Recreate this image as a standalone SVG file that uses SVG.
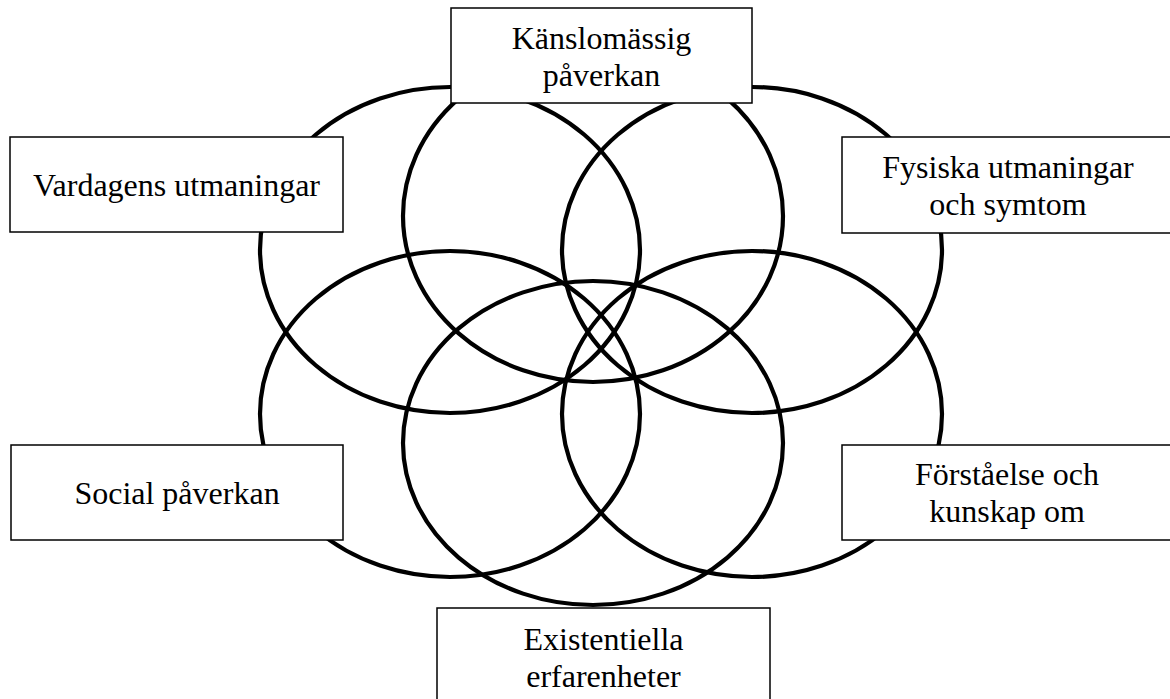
<svg xmlns="http://www.w3.org/2000/svg" width="1170" height="699" viewBox="0 0 1170 699">
<style>
.ring{fill:none;stroke:#000;stroke-width:4.2}
.box{fill:#fff;stroke:#000;stroke-width:1.5}
.lbl{font-family:"Liberation Serif","Times New Roman",serif;font-size:32px;fill:#000;text-anchor:middle}
</style>
<rect width="1170" height="699" fill="#fff"/>
<g id="connectors">
<ellipse class="ring" cx="450" cy="250" rx="190" ry="163"/>
<ellipse class="ring" cx="752" cy="250" rx="190" ry="163"/>
<ellipse class="ring" cx="450" cy="414" rx="190" ry="163"/>
<ellipse class="ring" cx="752" cy="414" rx="190" ry="163"/>
<ellipse class="ring" cx="593" cy="216" rx="190" ry="166"/>
<ellipse class="ring" cx="593" cy="443" rx="190" ry="162"/>
</g>
<g id="node-kanslomassig">
<rect class="box" x="451" y="8" width="301" height="95"/>
<text class="lbl" x="601.5" y="49">Känslomässig</text>
<text class="lbl" x="601.5" y="86">påverkan</text>
</g>
<g id="node-vardagens">
<rect class="box" x="10" y="137" width="333" height="95"/>
<text class="lbl" x="176.5" y="196">Vardagens utmaningar</text>
</g>
<g id="node-fysiska">
<rect class="box" x="842" y="137" width="333" height="96"/>
<text class="lbl" x="1008" y="178">Fysiska utmaningar</text>
<text class="lbl" x="1008" y="215">och symtom</text>
</g>
<g id="node-social">
<rect class="box" x="11" y="445" width="332" height="95"/>
<text class="lbl" x="177" y="504">Social påverkan</text>
</g>
<g id="node-forstaelse">
<rect class="box" x="842" y="445" width="333" height="95"/>
<text class="lbl" x="1007" y="485">Förståelse och</text>
<text class="lbl" x="1007" y="522">kunskap om</text>
</g>
<g id="node-existentiella">
<rect class="box" x="437" y="608" width="333" height="95"/>
<text class="lbl" x="603.5" y="650">Existentiella</text>
<text class="lbl" x="603.5" y="687">erfarenheter</text>
</g>
</svg>
